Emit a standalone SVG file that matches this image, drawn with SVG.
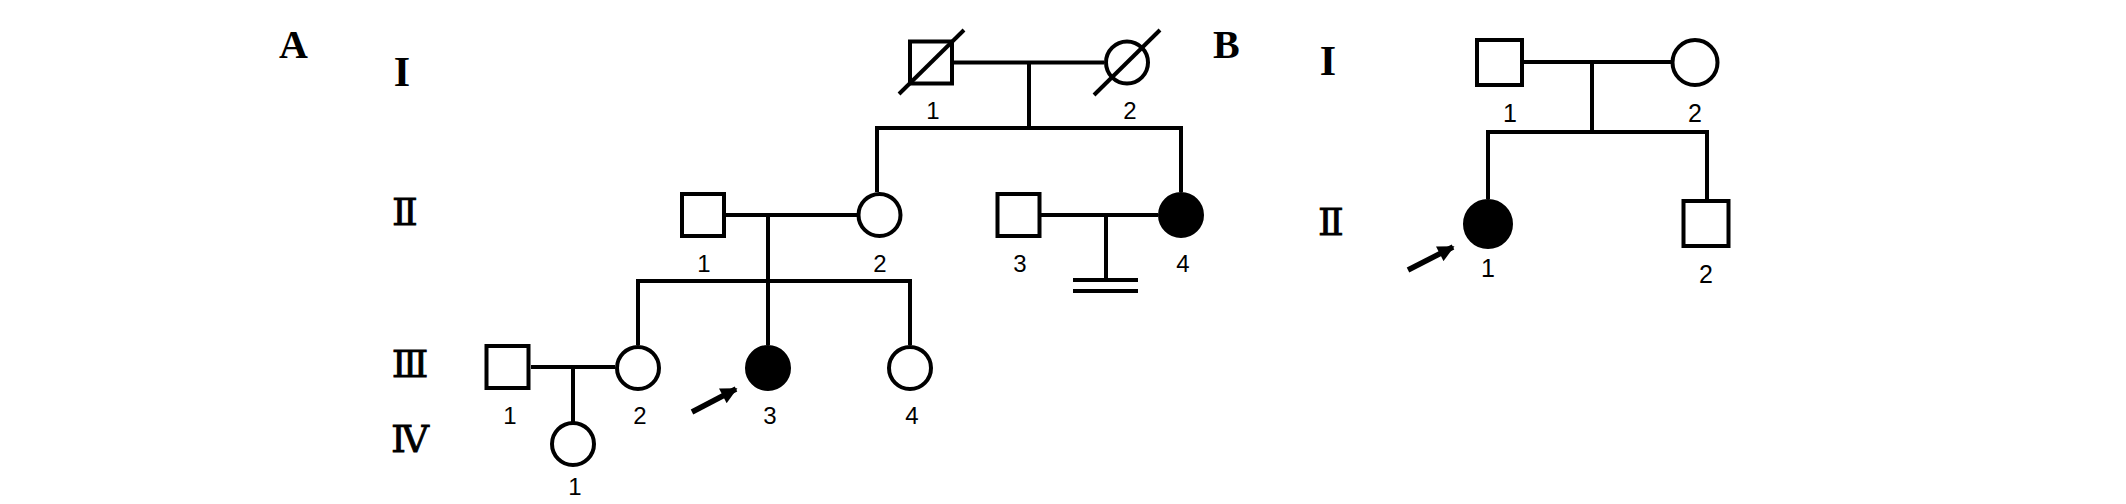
<svg xmlns="http://www.w3.org/2000/svg" width="2126" height="504" viewBox="0 0 2126 504">
<defs>
<style>
.s{fill:#fff;stroke:#000;stroke-width:4}
.f{fill:#000;stroke:#000;stroke-width:4}
.l{stroke:#000;stroke-width:4;fill:none}
.n{font-family:"Liberation Sans",Arial,sans-serif;font-size:24px;text-anchor:middle;fill:#000}
.g{font-family:"Liberation Serif","DejaVu Serif","Noto Sans CJK SC",serif;font-size:42px;font-weight:bold;text-anchor:middle;fill:#000}
.r{font-family:"DejaVu Serif","Noto Sans CJK SC",serif;font-size:38px;text-anchor:middle;fill:#000;stroke:#000;stroke-width:0.8}
.p{font-family:"Liberation Serif","Times New Roman",serif;font-size:40px;font-weight:bold;fill:#000}
.ar{stroke:#000;stroke-width:5.5;fill:none}
</style>
<marker id="ah" viewBox="0 0 10 10" refX="9" refY="5" markerWidth="3.2" markerHeight="3" orient="auto" markerUnits="strokeWidth">
<path d="M0,0 L10,5 L0,10 z" fill="#000"/>
</marker>
</defs>
<rect width="2126" height="504" fill="#fff"/>

<text class="p" x="279" y="58">A</text>
<text class="p" x="1213" y="58">B</text>
<g id="genlabels">
<text class="g" x="402" y="86">I</text>
<text class="r" x="405" y="225">Ⅱ</text>
<text class="r" x="410" y="377">Ⅲ</text>
<text class="r" x="410" y="452">Ⅳ</text>
<text class="g" x="1328" y="75">I</text>
<text class="r" x="1331" y="235">Ⅱ</text>
</g>

<g id="connectors">
<!-- A -->
<line class="l" x1="954" y1="62.5" x2="1104" y2="62.5"/>
<line class="l" x1="1029" y1="62.5" x2="1029" y2="128"/>
<line class="l" x1="875" y1="128" x2="1183" y2="128"/>
<line class="l" x1="877" y1="128" x2="877" y2="192"/>
<line class="l" x1="1181" y1="128" x2="1181" y2="192"/>
<line class="l" x1="726" y1="215" x2="857" y2="215"/>
<line class="l" x1="768" y1="215" x2="768" y2="345"/>
<line class="l" x1="1041" y1="215" x2="1158" y2="215"/>
<line class="l" x1="1106" y1="215" x2="1106" y2="280"/>
<line class="l" x1="1073" y1="280" x2="1138" y2="280"/>
<line class="l" x1="1073" y1="291" x2="1138" y2="291"/>
<line class="l" x1="636" y1="281" x2="912" y2="281"/>
<line class="l" x1="638" y1="281" x2="638" y2="345"/>
<line class="l" x1="910" y1="281" x2="910" y2="345"/>
<line class="l" x1="531" y1="367" x2="615" y2="367"/>
<line class="l" x1="573" y1="367" x2="573" y2="422"/>
<line class="ar" x1="692" y1="412" x2="736" y2="389" marker-end="url(#ah)"/>
<!-- B -->
<line class="l" x1="1524" y1="62" x2="1671" y2="62"/>
<line class="l" x1="1592" y1="62" x2="1592" y2="132"/>
<line class="l" x1="1486" y1="132" x2="1709" y2="132"/>
<line class="l" x1="1488" y1="132" x2="1488" y2="199"/>
<line class="l" x1="1707" y1="132" x2="1707" y2="199"/>
<line class="ar" x1="1408" y1="270" x2="1453" y2="247" marker-end="url(#ah)"/>
</g>

<!-- Pedigree A -->
<g id="A-I-1"><rect class="s" x="910" y="41.5" width="42" height="42"/><line class="l" x1="899" y1="94" x2="964" y2="30"/><text class="n" x="933" y="119">1</text></g>
<g id="A-I-2"><circle class="s" cx="1127" cy="62.5" r="21"/><line class="l" x1="1094" y1="95" x2="1160" y2="30"/><text class="n" x="1130" y="119">2</text></g>
<g id="A-II-1"><rect class="s" x="682" y="194" width="42" height="42"/><text class="n" x="704" y="272">1</text></g>
<g id="A-II-2"><circle class="s" cx="879.5" cy="215" r="21"/><text class="n" x="880" y="272">2</text></g>
<g id="A-II-3"><rect class="s" x="997.5" y="194" width="42" height="42"/><text class="n" x="1020" y="272">3</text></g>
<g id="A-II-4"><circle class="f" cx="1181" cy="215" r="21"/><text class="n" x="1183" y="272">4</text></g>
<g id="A-III-1"><rect class="s" x="486.5" y="346" width="42" height="42"/><text class="n" x="510" y="424">1</text></g>
<g id="A-III-2"><circle class="s" cx="638" cy="368" r="21"/><text class="n" x="640" y="424">2</text></g>
<g id="A-III-3"><circle class="f" cx="768" cy="368" r="21"/><text class="n" x="770" y="424">3</text></g>
<g id="A-III-4"><circle class="s" cx="910" cy="368" r="21"/><text class="n" x="912" y="424">4</text></g>
<g id="A-IV-1"><circle class="s" cx="573" cy="444" r="21"/><text class="n" x="575" y="495">1</text></g>

<!-- Pedigree B -->
<g id="B-I-1"><rect class="s" x="1477" y="40" width="45" height="45"/><text class="n" x="1510" y="122" style="font-size:25px">1</text></g>
<g id="B-I-2"><circle class="s" cx="1695" cy="62.5" r="22.5"/><text class="n" x="1695" y="122" style="font-size:25px">2</text></g>
<g id="B-II-1"><circle class="f" cx="1488" cy="224" r="23"/><text class="n" x="1488" y="277" style="font-size:25px">1</text></g>
<g id="B-II-2"><rect class="s" x="1683.5" y="201" width="45" height="45"/><text class="n" x="1706" y="283" style="font-size:25px">2</text></g>
</svg>
